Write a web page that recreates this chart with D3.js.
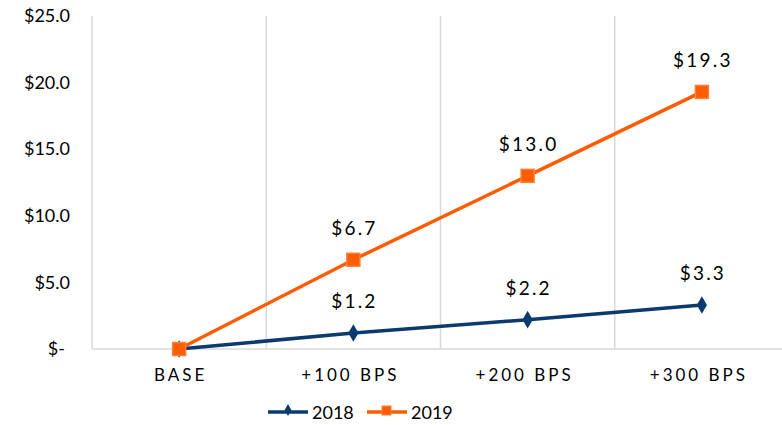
<!DOCTYPE html>
<html><head><meta charset="utf-8">
<script src="https://cdn.jsdelivr.net/npm/d3@7"></script>
<style>body{margin:0;background:#fff;} svg{display:block;font-family:Lato, "Open Sans", sans-serif;}</style>
</head><body>
<svg id="c" width="782" height="425"></svg>
<script>
const categories = ["BASE", "+100 BPS", "+200 BPS", "+300 BPS"];
const series2018 = [0, 1.2, 2.2, 3.3];
const series2019 = [0, 6.7, 13.0, 19.3];
const yTicks = [0, 5, 10, 15, 20, 25];
const seriesNames = ["2018", "2019"];

(function () {
const svg = d3.select("#c");
const pLeft = 92, pRight = 789, pTop = 16, pBottom = 349;
const x = d3.scaleBand().domain(categories).range([pLeft, pRight]);
const y = d3.scaleLinear().domain([0, 25]).range([pBottom, pTop]);
const cx = d => x(d) + x.bandwidth() / 2;

// vertical gridlines
svg.append("g").selectAll("line").data(categories.slice(1)).join("line")
  .attr("x1", d => x(d)).attr("x2", d => x(d)).attr("y1", pTop).attr("y2", pBottom)
  .attr("stroke", "#d9d9d9").attr("stroke-width", 1.5);
// axes lines
svg.append("line").attr("x1", pLeft).attr("x2", pLeft).attr("y1", pTop).attr("y2", pBottom).attr("stroke", "#d9d9d9").attr("stroke-width", 1.5);
svg.append("line").attr("x1", pLeft).attr("x2", 782).attr("y1", pBottom).attr("y2", pBottom).attr("stroke", "#d9d9d9").attr("stroke-width", 1.5);

// y axis labels
const yAxis = d3.axisLeft(y).tickValues(yTicks).tickSize(0).tickPadding(22)
  .tickFormat(v => v === 0 ? "$-" : "$" + v.toFixed(1));
const ya = svg.append("g").attr("transform", `translate(${pLeft},0)`).call(yAxis);
ya.select(".domain").remove();
ya.selectAll("text").attr("font-size", 18).attr("fill", "#000").attr("font-family", "Lato, sans-serif").attr("dx", v => v === 0 ? -5 : 0);

// x axis labels
const xAxis = d3.axisBottom(x).tickSize(0).tickPadding(20);
const xa = svg.append("g").attr("transform", `translate(0,${pBottom})`).call(xAxis);
xa.select(".domain").remove();
xa.selectAll("text").attr("font-size", 17).attr("fill", "#000").attr("letter-spacing", "3px").attr("dx", d => d === "BASE" ? "1.5px" : "-3px").attr("font-family", "Lato, sans-serif");

const blue = "#0b3a6f", orange = "#ff5c00";
const line = d3.line().x((d, i) => cx(categories[i])).y(d => y(d));

function drawSeries(vals, color, marker) {
  svg.append("path").datum(vals).attr("d", line).attr("fill", "none").attr("stroke", color).attr("stroke-width", 3.5);
  const g = svg.append("g");
  vals.forEach((v, i) => {
    const px = cx(categories[i]), py = y(v);
    if (marker === "diamond") {
      g.append("path").attr("d", d3.symbol(d3.symbolDiamond, 90)()).attr("transform", `translate(${px},${py})`).attr("fill", color);
    } else {
      g.append("rect").attr("x", px - 6.5).attr("y", py - 6.5).attr("width", 13).attr("height", 13)
        .attr("fill", color).attr("stroke", "#f4823c").attr("stroke-width", 1.5);
    }
    if (i > 0) {
      svg.append("text").attr("x", px + 1).attr("y", py - 25).attr("text-anchor", "middle")
        .attr("font-size", 19).attr("letter-spacing", "2.2px").attr("fill", "#000").text("$" + v.toFixed(1));
    }
  });
}
drawSeries(series2018, blue, "diamond");
drawSeries(series2019, orange, "square");

// legend
const leg = svg.append("g");
[[blue, "diamond", 268, seriesNames[0]], [orange, "square", 367, seriesNames[1]]].forEach(([c, m, lx, name]) => {
  leg.append("line").attr("x1", lx).attr("x2", lx + 40).attr("y1", 412).attr("y2", 412).attr("stroke", c).attr("stroke-width", 3.5);
  if (m === "diamond") leg.append("path").attr("d", d3.symbol(d3.symbolDiamond, 40)()).attr("transform", `translate(${lx + 20},410)`).attr("fill", c);
  else leg.append("rect").attr("x", lx + 15).attr("y", 406).attr("width", 9).attr("height", 9).attr("fill", c).attr("stroke", "#f4823c");
  leg.append("text").attr("x", lx + 44).attr("y", 419).attr("font-size", 18).attr("fill", "#000").text(name);
});
})();
</script>
</body></html>
